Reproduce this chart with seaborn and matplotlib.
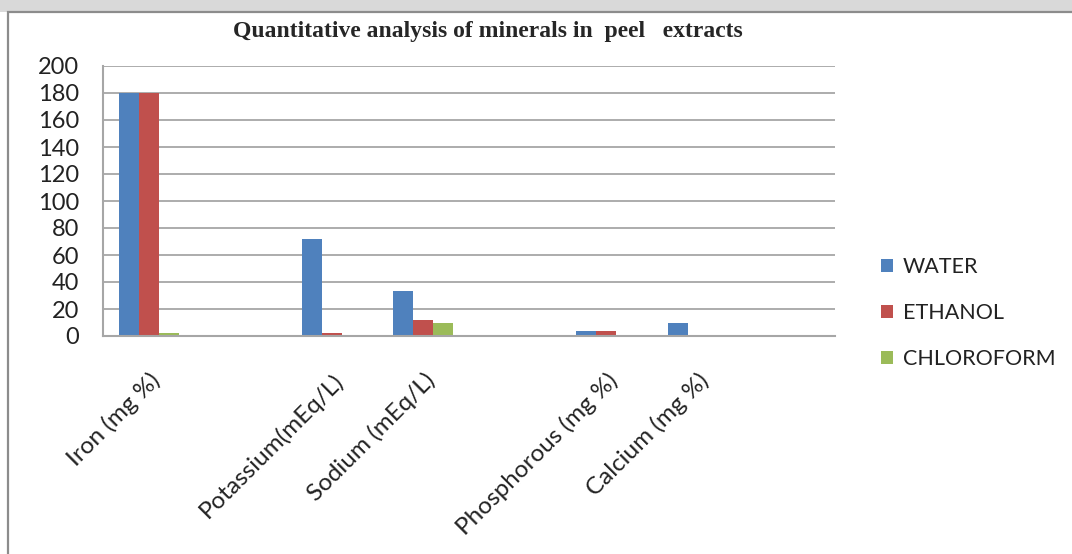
import matplotlib
matplotlib.use("Agg")
import matplotlib.pyplot as plt
import seaborn as sns
import pandas as pd
from matplotlib.patches import Rectangle

# Data (blank slots are empty categories in the original chart)
categories = ["Iron (mg %)", "_b1", "Potassium(mEq/L)", "Sodium (mEq/L)", "_b2",
              "Phosphorous (mg %)", "Calcium (mg %)", "_b3"]
tick_labels = ["Iron (mg %)", "", "Potassium(mEq/L)", "Sodium (mEq/L)", "",
               "Phosphorous (mg %)", "Calcium (mg %)", ""]
series = ["WATER", "ETHANOL", "CHLOROFORM"]
water = [180, None, 72, 33, None, 3.5, 10, None]
ethanol = [180, None, 2, 12, None, 3.5, 0, None]
chloroform = [2, None, 0, 10, None, 1, 0, None]
colors = ["#4F81BD", "#C0504D", "#9BBB59"]

rows = []
for s, vals in zip(series, [water, ethanol, chloroform]):
    for c, v in zip(categories, vals):
        if v is not None:
            rows.append({"cat": c, "series": s, "val": v})
df = pd.DataFrame(rows)

sns.set_theme(style="white")
plt.rcParams["font.family"] = ["Lato", "DejaVu Sans"]

fig = plt.figure(figsize=(10.72, 5.54), dpi=100)

# top band and outer chart frame (drawn below the axes)
fig.patches.append(Rectangle((0, 1-12/554), 1, 12/554, transform=fig.transFigure,
                             facecolor="#D9D9D9", edgecolor="none", zorder=-2))
fig.patches.append(Rectangle((8/1072, -0.05), 1.1, 1.05-12/554, transform=fig.transFigure,
                             facecolor="white", edgecolor="#8C8C8C", linewidth=1.6, zorder=-1))

ax = fig.add_axes([103/1072, 1-336/554, (835-103)/1072, (336-66)/554])
ax.set_zorder(2)
ax.patch.set_alpha(0)

sns.barplot(data=df, x="cat", y="val", hue="series", order=categories,
            hue_order=series, palette=colors, width=0.66, ax=ax,
            saturation=1, legend=True, edgecolor="none")

ax.set_ylim(0, 200)
ax.set_xlim(-0.5, len(categories) - 0.5)
ax.set_yticks(range(0, 201, 20))
ax.yaxis.grid(True, color="#A6A6A6", linewidth=1.3)
ax.set_axisbelow(True)
ax.set_xlabel("")
ax.set_ylabel("")
for sp in ["top", "right"]:
    ax.spines[sp].set_visible(False)
for sp in ["left", "bottom"]:
    ax.spines[sp].set_color("#A6A6A6")
    ax.spines[sp].set_linewidth(1.5)
ax.tick_params(axis="y", length=0, pad=17, labelsize=17, labelcolor="#222222")
ax.tick_params(axis="x", length=0, pad=24, labelsize=17.5, labelcolor="#222222")
ax.set_xticks(range(len(categories)))
ax.set_xticklabels(tick_labels, rotation=45, ha="right", rotation_mode="anchor")

handles, labels = ax.get_legend_handles_labels()
ax.get_legend().remove()
fig.legend(handles, labels, loc="upper left", bbox_to_anchor=(862/1072, 1-238/554),
           frameon=False, fontsize=15.5, handlelength=0.55, handleheight=0.55,
           handletextpad=0.45, labelspacing=1.2, labelcolor="#222222")

fig.text(488/1072, 1-32/554, "Quantitative analysis of minerals in  peel   extracts",
         ha="center", va="center", fontsize=17, fontweight="bold",
         family=["Liberation Serif"])

fig.savefig("out.png", dpi=100)
